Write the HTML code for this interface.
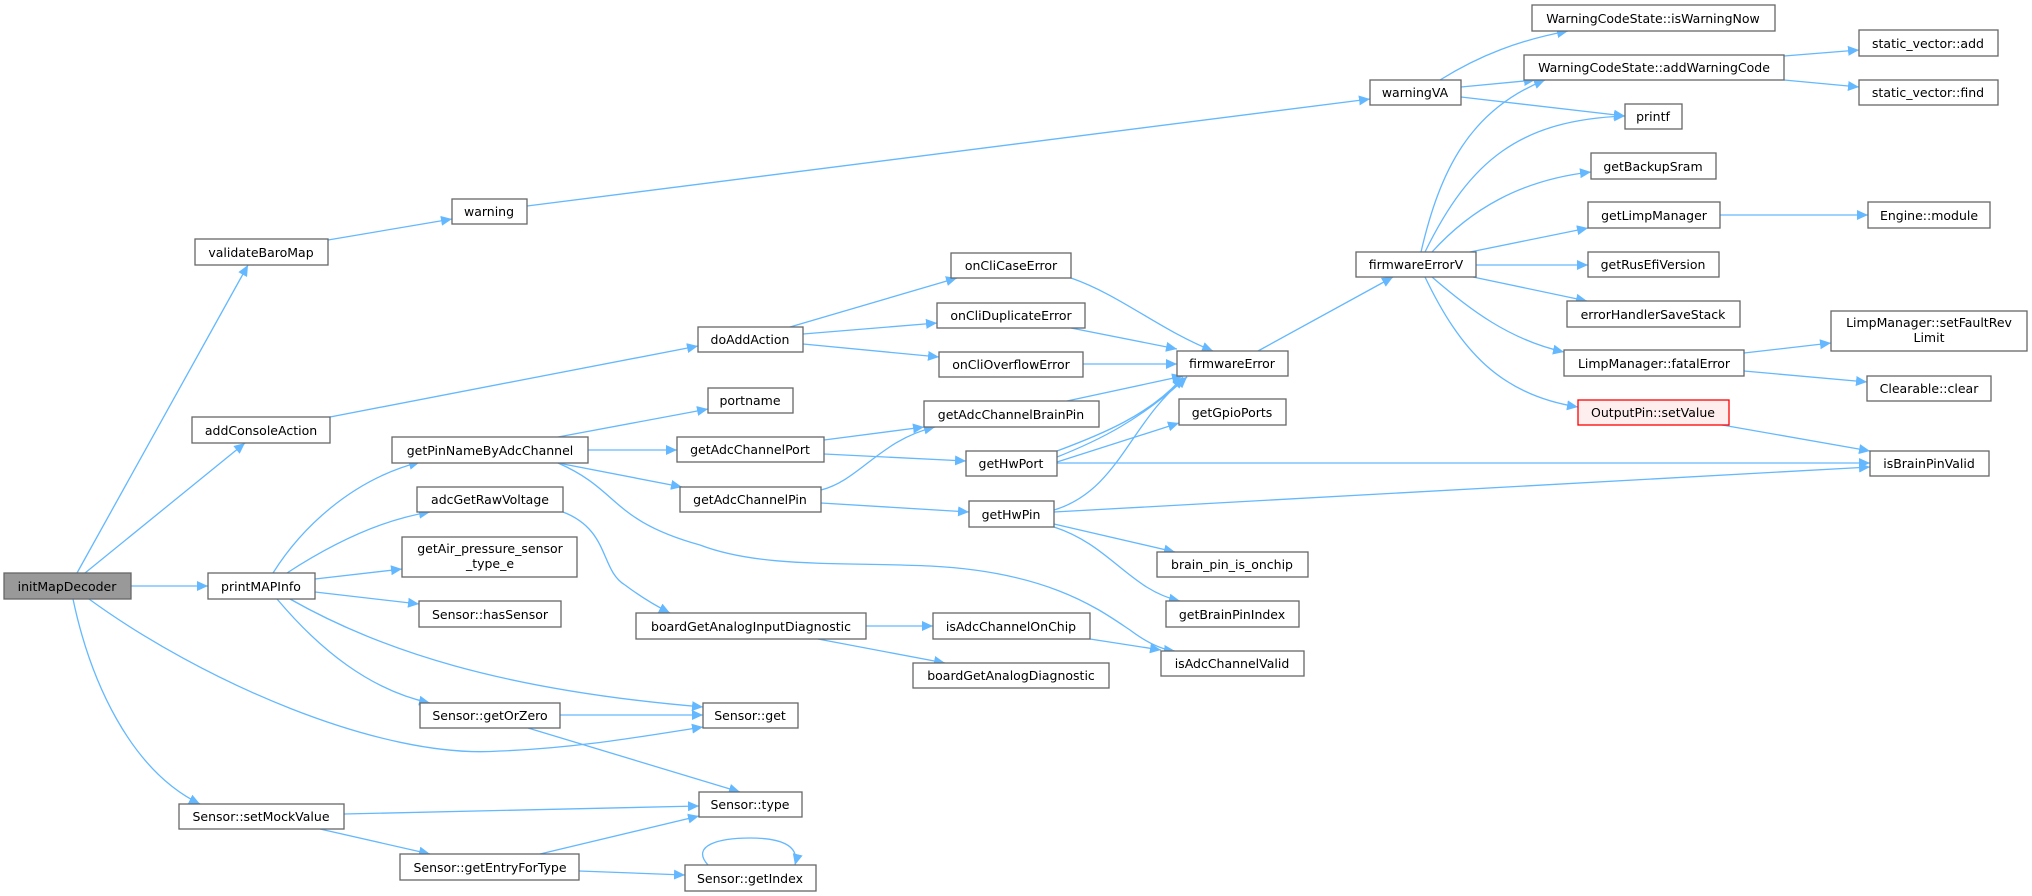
<!DOCTYPE html>
<html><head><meta charset="utf-8"><style>
html,body{margin:0;padding:0;background:#fff;}
svg{display:block;}
text{font-family:"DejaVu Sans","Liberation Sans",sans-serif;font-size:12.5px;fill:#000;text-anchor:middle;}
.e{fill:none;stroke:#63b8ff;stroke-width:1.3;marker-end:url(#a);}
.n{fill:#fff;stroke:#666;stroke-width:1.3;}
</style></head><body>
<svg width="2032" height="896" viewBox="0 0 2032 896" xmlns="http://www.w3.org/2000/svg">
<defs><marker id="a" markerUnits="userSpaceOnUse" markerWidth="12" markerHeight="10" refX="11" refY="5" orient="auto"><path d="M0,0 L11,5 L0,10 z" fill="#63b8ff"/></marker></defs>
<g>
<path class="e" d="M77,573 L248,265"/>
<path class="e" d="M85,573 L245,443"/>
<path class="e" d="M131,586 L208,586"/>
<path class="e" d="M89,599 C200,680 380,760 500,751 C580,748 650,735 703,727"/>
<path class="e" d="M73,599 C90,680 130,770 200,804"/>
<path class="e" d="M328,240 L452,219"/>
<path class="e" d="M527,206 L1370,99"/>
<path class="e" d="M330,417 L698,346"/>
<path class="e" d="M273,573 C300,530 350,480 420,462"/>
<path class="e" d="M287,573 C330,545 380,520 430,512"/>
<path class="e" d="M315,579 L402,569"/>
<path class="e" d="M315,592 L419,604"/>
<path class="e" d="M290,599 C380,650 500,690 703,707"/>
<path class="e" d="M277,599 C320,650 370,690 430,703"/>
<path class="e" d="M558,437 L708,409"/>
<path class="e" d="M588,450 L677,450"/>
<path class="e" d="M558,463 L682,487"/>
<path class="e" d="M558,463 C620,490 610,520 700,545 C760,568 840,562 930,566 C1050,572 1100,610 1130,630 C1150,645 1165,650 1175,651"/>
<path class="e" d="M563,512 C610,530 600,570 625,585 C645,600 660,608 670,613"/>
<path class="e" d="M790,327 L957,278"/>
<path class="e" d="M803,334 L937,323"/>
<path class="e" d="M803,344 L939,357"/>
<path class="e" d="M1071,278 C1120,295 1160,330 1213,351"/>
<path class="e" d="M1071,328 L1177,349"/>
<path class="e" d="M1083,364 L1177,364"/>
<path class="e" d="M1067,401 L1183,376"/>
<path class="e" d="M824,440 L924,427"/>
<path class="e" d="M824,454 L966,461"/>
<path class="e" d="M821,490 C860,480 880,440 935,427"/>
<path class="e" d="M821,503 L969,512"/>
<path class="e" d="M1057,457 C1100,440 1140,420 1187,377"/>
<path class="e" d="M1057,451 C1100,435 1150,415 1183,377"/>
<path class="e" d="M1054,510 C1120,490 1130,420 1187,377"/>
<path class="e" d="M1057,462 L1179,423"/>
<path class="e" d="M1057,463 L1870,463"/>
<path class="e" d="M1054,512 L1870,467"/>
<path class="e" d="M1054,524 L1175,552"/>
<path class="e" d="M1054,527 C1110,545 1130,590 1180,601"/>
<path class="e" d="M866,626 L933,626"/>
<path class="e" d="M818,639 L945,663"/>
<path class="e" d="M1090,639 L1161,650"/>
<path class="e" d="M560,715 L703,715"/>
<path class="e" d="M528,728 L740,792"/>
<path class="e" d="M344,814 L699,806"/>
<path class="e" d="M320,829 L430,854"/>
<path class="e" d="M540,854 L699,816"/>
<path class="e" d="M579,871 L685,875"/>
<path class="e" d="M708,865 C690,845 720,838 750,838 C780,838 800,845 795,865"/>
<path class="e" d="M1258,351 L1393,277"/>
<path class="e" d="M1440,80 C1480,55 1520,40 1568,31"/>
<path class="e" d="M1461,87 L1535,80"/>
<path class="e" d="M1461,97 L1625,116"/>
<path class="e" d="M1784,56 L1859,50"/>
<path class="e" d="M1784,80 L1859,87"/>
<path class="e" d="M1421,252 C1440,170 1470,110 1545,80"/>
<path class="e" d="M1425,252 C1470,160 1520,120 1625,116"/>
<path class="e" d="M1432,252 C1470,210 1520,180 1591,172"/>
<path class="e" d="M1470,252 L1588,228"/>
<path class="e" d="M1476,265 L1588,265"/>
<path class="e" d="M1473,277 L1587,301"/>
<path class="e" d="M1432,277 C1470,310 1510,340 1564,352"/>
<path class="e" d="M1425,277 C1460,350 1500,395 1578,407"/>
<path class="e" d="M1720,215 L1868,215"/>
<path class="e" d="M1744,353 L1831,343"/>
<path class="e" d="M1744,371 L1867,382"/>
<path class="e" d="M1722,425 L1870,451"/>
</g>
<g>
<rect x="4" y="573" width="127" height="26" fill="#999" stroke="#666" stroke-width="1.3"/><text x="67" y="591">initMapDecoder</text>
<rect class="n" x="195" y="239" width="133" height="26"/><text x="261" y="257">validateBaroMap</text>
<rect class="n" x="452" y="199" width="75" height="25"/><text x="489" y="216">warning</text>
<rect class="n" x="192" y="417" width="138" height="26"/><text x="261" y="435">addConsoleAction</text>
<rect class="n" x="208" y="573" width="107" height="26"/><text x="261" y="591">printMAPInfo</text>
<rect class="n" x="179" y="804" width="165" height="25"/><text x="261" y="821">Sensor::setMockValue</text>
<rect class="n" x="392" y="437" width="196" height="26"/><text x="490" y="455">getPinNameByAdcChannel</text>
<rect class="n" x="417" y="487" width="146" height="25"/><text x="490" y="504">adcGetRawVoltage</text>
<rect class="n" x="402" y="537" width="175" height="40"/><text x="490" y="553">getAir_pressure_sensor</text><text x="490" y="568">_type_e</text>
<rect class="n" x="419" y="601" width="142" height="26"/><text x="490" y="619">Sensor::hasSensor</text>
<rect class="n" x="420" y="703" width="140" height="25"/><text x="490" y="720">Sensor::getOrZero</text>
<rect class="n" x="400" y="854" width="179" height="26"/><text x="490" y="872">Sensor::getEntryForType</text>
<rect class="n" x="698" y="327" width="105" height="25"/><text x="750" y="344">doAddAction</text>
<rect class="n" x="708" y="388" width="85" height="25"/><text x="750" y="405">portname</text>
<rect class="n" x="677" y="437" width="147" height="25"/><text x="750" y="454">getAdcChannelPort</text>
<rect class="n" x="680" y="487" width="141" height="25"/><text x="750" y="504">getAdcChannelPin</text>
<rect class="n" x="636" y="613" width="230" height="26"/><text x="751" y="631">boardGetAnalogInputDiagnostic</text>
<rect class="n" x="703" y="703" width="95" height="25"/><text x="750" y="720">Sensor::get</text>
<rect class="n" x="699" y="792" width="103" height="25"/><text x="750" y="809">Sensor::type</text>
<rect class="n" x="685" y="865" width="131" height="26"/><text x="750" y="883">Sensor::getIndex</text>
<rect class="n" x="951" y="253" width="120" height="25"/><text x="1011" y="270">onCliCaseError</text>
<rect class="n" x="937" y="303" width="148" height="25"/><text x="1011" y="320">onCliDuplicateError</text>
<rect class="n" x="939" y="352" width="144" height="25"/><text x="1011" y="369">onCliOverflowError</text>
<rect class="n" x="924" y="401" width="175" height="26"/><text x="1011" y="419">getAdcChannelBrainPin</text>
<rect class="n" x="966" y="451" width="91" height="25"/><text x="1011" y="468">getHwPort</text>
<rect class="n" x="969" y="501" width="85" height="26"/><text x="1011" y="519">getHwPin</text>
<rect class="n" x="933" y="613" width="157" height="26"/><text x="1011" y="631">isAdcChannelOnChip</text>
<rect class="n" x="913" y="663" width="196" height="25"/><text x="1011" y="680">boardGetAnalogDiagnostic</text>
<rect class="n" x="1177" y="351" width="111" height="25"/><text x="1232" y="368">firmwareError</text>
<rect class="n" x="1179" y="399" width="107" height="26"/><text x="1232" y="417">getGpioPorts</text>
<rect class="n" x="1157" y="552" width="151" height="25"/><text x="1232" y="569">brain_pin_is_onchip</text>
<rect class="n" x="1166" y="601" width="133" height="26"/><text x="1232" y="619">getBrainPinIndex</text>
<rect class="n" x="1161" y="651" width="143" height="25"/><text x="1232" y="668">isAdcChannelValid</text>
<rect class="n" x="1370" y="80" width="91" height="25"/><text x="1415" y="97">warningVA</text>
<rect class="n" x="1356" y="252" width="120" height="25"/><text x="1416" y="269">firmwareErrorV</text>
<rect class="n" x="1532" y="5" width="243" height="26"/><text x="1653" y="23">WarningCodeState::isWarningNow</text>
<rect class="n" x="1524" y="55" width="260" height="25"/><text x="1654" y="72">WarningCodeState::addWarningCode</text>
<rect class="n" x="1625" y="104" width="57" height="25"/><text x="1653" y="121">printf</text>
<rect class="n" x="1591" y="153" width="125" height="26"/><text x="1653" y="171">getBackupSram</text>
<rect class="n" x="1588" y="202" width="132" height="26"/><text x="1654" y="220">getLimpManager</text>
<rect class="n" x="1588" y="252" width="131" height="25"/><text x="1653" y="269">getRusEfiVersion</text>
<rect class="n" x="1567" y="301" width="173" height="26"/><text x="1653" y="319">errorHandlerSaveStack</text>
<rect class="n" x="1564" y="350" width="180" height="26"/><text x="1654" y="368">LimpManager::fatalError</text>
<rect x="1578" y="400" width="151" height="25" fill="#fee" stroke="#f00" stroke-width="1.3"/><text x="1653" y="417">OutputPin::setValue</text>
<rect class="n" x="1859" y="30" width="139" height="26"/><text x="1928" y="48">static_vector::add</text>
<rect class="n" x="1859" y="80" width="139" height="25"/><text x="1928" y="97">static_vector::find</text>
<rect class="n" x="1868" y="202" width="122" height="26"/><text x="1929" y="220">Engine::module</text>
<rect class="n" x="1831" y="311" width="196" height="40"/><text x="1929" y="327">LimpManager::setFaultRev</text><text x="1929" y="342">Limit</text>
<rect class="n" x="1867" y="376" width="124" height="25"/><text x="1929" y="393">Clearable::clear</text>
<rect class="n" x="1870" y="451" width="119" height="25"/><text x="1929" y="468">isBrainPinValid</text>
</g>
</svg>
</body></html>
